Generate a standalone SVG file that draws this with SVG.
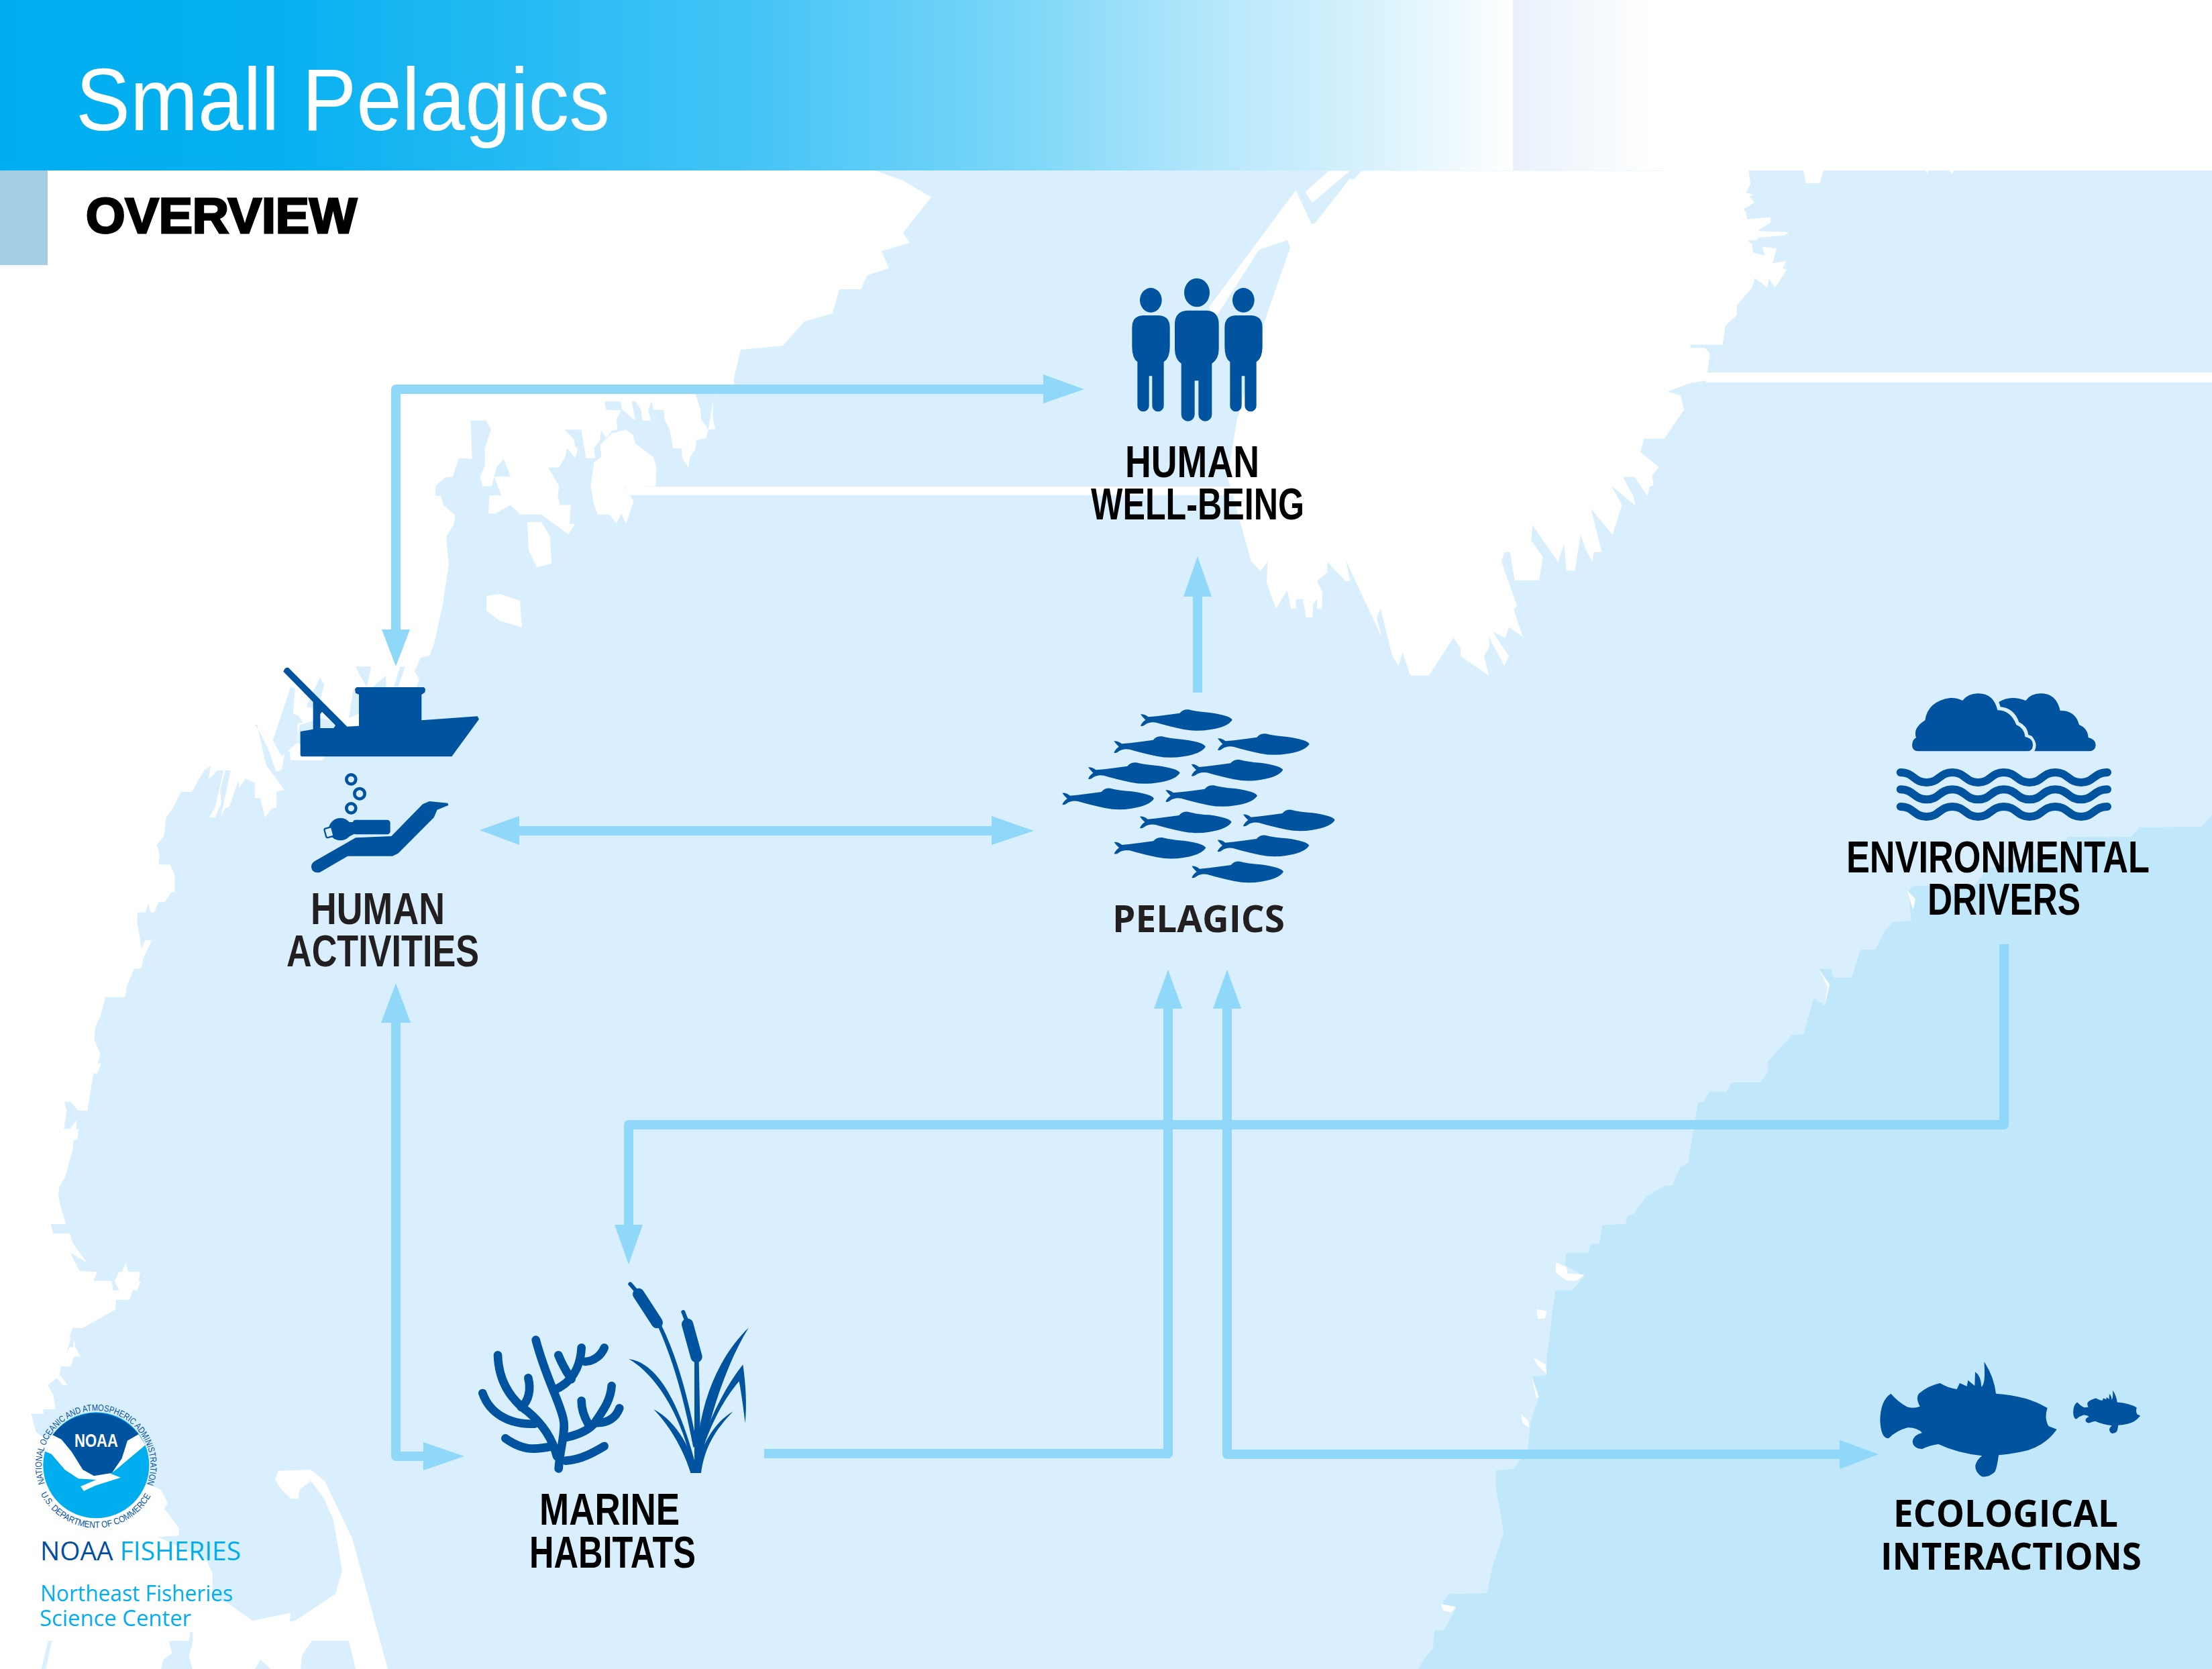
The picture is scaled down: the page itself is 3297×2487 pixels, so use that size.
<svg xmlns="http://www.w3.org/2000/svg" xmlns:xlink="http://www.w3.org/1999/xlink" width="3297" height="2487" viewBox="0 0 3297 2487">
<style>
.land{fill:#fff}.water{fill:#d9effd}.deep{fill:#c1e7fb}
.icon{fill:#00539f}
.lbl{font-family:"Liberation Sans",Arial,sans-serif;font-weight:700;font-size:67px;fill:#000}
.lbl2{font-family:"Open Sans","Noto Sans",sans-serif;font-weight:700;font-size:56px;fill:#000}
.dk{fill:#231f20}
.ln{fill:none;stroke:#8fd8f9;stroke-width:14;stroke-linejoin:round}
.hd{fill:#8fd8f9}
.wave{fill:none;stroke:#00539f;stroke-width:36;stroke-linecap:round}
.co{fill:none;stroke:#00539f;stroke-width:38;stroke-linecap:round;stroke-linejoin:round}
.foot{font-family:"Open Sans","Noto Sans",sans-serif;fill:#00aeef}
</style>
<defs>
<linearGradient id="hg" x1="0" x2="1" y1="0" y2="0">
<stop offset="0" stop-color="#00aeef"/><stop offset=".18" stop-color="#06b0f0"/><stop offset=".49" stop-color="#42c3f6"/><stop offset=".67" stop-color="#7ad6f8"/><stop offset=".8" stop-color="#b5e7fb"/><stop offset=".9" stop-color="#d5f1fc"/><stop offset="1" stop-color="#fff"/>
</linearGradient>
<linearGradient id="hg2" x1="0" x2="1" y1="0" y2="0"><stop offset="0" stop-color="#e8f1fb"/><stop offset="1" stop-color="#fff"/></linearGradient>
<path id="man" d="M160,270H232Q281,272 281,325V410Q281,460 254,478V674A26,26 0 0 1 202,674V541H188V674A26,26 0 0 1 136,674V478Q112,460 112,410V325Q112,272 160,270Z"/>
<path id="sard" d="M450,103Q465,100 485,115Q560,108 625,98Q640,80 665,82Q700,92 760,96Q850,108 860,128Q840,160 760,172Q700,182 640,170Q570,155 520,140Q490,135 470,150Q460,158 450,155Q455,140 472,128Q458,115 450,103Z"/>
<path id="grp" d="M127,410Q128,320 175,290Q210,330 250,350Q280,358 305,347Q285,310 300,290Q340,255 395,243Q430,265 470,270L483,243L515,257L520,230L550,255L552,193Q578,210 580,260Q600,245 592,148Q635,210 645,290Q790,300 875,355Q860,400 880,435L917,450Q860,530 760,550Q700,562 657,565Q650,620 640,640Q610,668 580,660Q550,640 553,610Q560,585 583,568Q470,555 388,516Q350,520 315,538Q275,535 272,505Q275,475 315,465Q290,440 250,442Q200,455 165,490Q130,490 127,410Z"/>
<path id="wv" d="M308,453C368,453 368,498 425,498C482,498 482,453 540,453C598,453 598,498 655,498C712,498 712,453 770,453C828,453 828,498 885,498C942,498 942,453 1000,453C1058,453 1058,498 1115,498C1172,498 1172,453 1233,453"/>
<path id="ringTop" d="M66.8,2210.3A81,81 0 1 1 218.3,2213.3"/>
<path id="ringBot" d="M60.6,2226.3A93,93 0 0 0 225,2228.3"/>
</defs>

<g id="map">
<rect class="water" x="0" y="254" width="3297" height="2233"/>
<polygon class="land" points="0,254 1304,254 1346,269 1388,294 1371,315 1346,347 1356,362 1314,374 1325,400 1293,410 1283,431 1251,431 1241,467 1199,479 1167,515 1104,521 1093,568 1100,587 1100,800 665,800 669,841 660,900 647,960 640,977 627,980 618,1000 625,1013 618,1030 600,1040 560,1090 500,1110 480,1133 433,1133 423,1177 412,1180 412,1203 405,1205 395,1218 388,1189 380,1189 380,1167 366,1160 357,1174 355,1164 342,1202 335,1205 329,1218 344,1148 336,1148 328,1177 330,1196 321,1218 312,1218 321,1202 333,1148 324,1148 311,1161 314,1141 304,1148 286,1180 0,1180"/>
<polygon class="land" transform="translate(0,1100) scale(.4464,.6378)" points="0,100 650,100 640,120 608,120 580,160 555,185 548,228 523,250 533,270 530,295 568,295 583,320 583,360 572,360 550,383 530,383 515,407 503,407 495,388 485,407 460,407 458,430 473,492 485,472 507,472 478,515 472,538 448,538 423,580 418,605 352,605 335,650 318,675 315,705 335,737 327,760 337,760 325,783 312,783 292,870 260,870 238,850 215,850 223,870 213,913 233,913 255,893 255,913 262,915 258,937 245,940 243,960 218,1025 198,1048 195,1070 205,1100 220,1135 170,1135 177,1157 233,1157 243,1180 290,1225 235,1202 265,1245 325,1247 312,1268 372,1268 378,1290 397,1290 383,1268 397,1247 408,1247 420,1225 428,1247 468,1247 463,1268 470,1270 458,1290 443,1290 433,1312 388,1312 385,1335 275,1378 243,1378 230,1400 237,1400 222,1437 232,1423 245,1423 245,1400 252,1423 270,1445 248,1445 235,1468 203,1468 198,1490 225,1512 210,1512 185,1490 160,1512 178,1535 185,1568 0,1568"/>
<polygon class="land" transform="translate(0,2050) scale(.33333)" points="0,0 250,0 300,40 270,0 214,42 240,110 190,130 195,170 140,170 160,250 175,262 300,360 450,420 640,480 700,500 720,510 750,570 735,595 770,640 800,680 800,715 705,720 920,820 950,880 950,1000 1010,1010 1130,1095 1300,1060 1295,1100 1320,1095 1500,975 1530,870 1490,640 1470,600 1450,550 1390,470 1340,510 1335,550 1300,550 1260,510 1230,465 1245,425 1390,420 1452,470 1575,726 1734,1311 0,1311"/>
<polygon class="water" transform="translate(0,2050) scale(.33333)" points="215,1185 232,1185 205,1311 185,1311"/>
<polygon class="water" transform="translate(0,2050) scale(.33333)" points="755,1185 845,1185 850,1145 862,1145 862,1190 845,1250 860,1311 720,1311 730,1270 770,1240"/>
<polygon class="water" transform="translate(0,2050) scale(.33333)" points="1140,1311 1165,1270 1210,1311"/>
<polygon class="water" transform="translate(0,2050) scale(.33333)" points="1345,1311 1350,1250 1395,1185 1560,1185 1590,1311"/>
<g transform="scale(.7015,.5102)">
<polygon class="water" points="1200,1255 1235,1255 1245,1338 1265,1338 1262,1310 1275,1285 1277,1258 1288,1280 1300,1258 1312,1255 1310,1225 1320,1198 1288,1197 1285,1172 1318,1172 1322,1197 1350,1228 1342,1172 1350,1172 1362,1197 1365,1228 1383,1228 1377,1197 1385,1172 1388,1197 1410,1197 1412,1225 1423,1255 1430,1310 1448,1310 1450,1340 1463,1365 1465,1338 1478,1310 1480,1285 1500,1280 1505,1255 1520,1253 1515,1225 1515,1170 1525,1150 1568,1150 1568,1568 1222,1568 1222,1530 1210,1530 1213,1475 1190,1475 1185,1448 1188,1420 1165,1365 1187,1365 1200,1338 1205,1310 1222,1338 1228,1310 1222,1305 1220,1285"/>
<polygon class="water" points="1478,1150 1525,1150 1515,1170 1505,1255 1490,1225 1488,1195"/>
<polygon class="water" points="1000,1228 1033,1228 1043,1255 1030,1310 1030,1362 1020,1392 1025,1420 1045,1420 1055,1365 1070,1340 1085,1392 1050,1392 1065,1447 1040,1447 1038,1500 1052,1500 1085,1475 1105,1503 1150,1503 1208,1560 1222,1530 1240,1568 948,1568 965,1530 967,1505 942,1475 937,1448 925,1448 925,1420 945,1395 962,1392 975,1338 1003,1340"/>
<polygon class="land" points="1255,1420 1262,1350 1278,1335 1275,1300 1300,1265 1330,1255 1345,1270 1350,1295 1388,1335 1395,1365 1393,1420 1370,1420 1345,1447 1325,1420 1345,1460 1345,1470 1330,1530 1320,1500 1310,1530 1295,1503 1270,1503 1262,1475"/>
</g>
<polygon class="land" points="786,778 807,778 820,800 822,840 800,845 788,820"/>
<polygon class="land" points="725,888 745,885 775,895 778,935 745,925 725,910"/>
<rect class="land" x="933" y="725" width="910" height="13"/>
<g transform="translate(380,960) scale(.33333)">
<polygon class="water" points="450,100 520,100 500,190 470,140"/>
<polygon class="water" points="650,100 672,100 640,190 620,190"/>
<polygon class="water" points="530,190 585,140 590,260 420,330 440,200"/>
<polygon class="water" points="80,430 160,190 180,195 170,310 195,320 215,350 190,355 190,440 120,500"/>
<polygon class="water" points="290,150 310,180 280,290 230,280"/>
<polygon class="water" points="0,360 10,360 50,540 95,600 130,650 160,520 155,480 135,478 120,560 95,570 60,470 20,390"/>
<polygon class="water" points="300,330 420,370 420,500 310,500 190,440 200,360"/>
</g>
<polygon class="land" transform="translate(1500,200) scale(.7015,.574)" points="685,95 730,95 650,178 635,150"/>
<polygon class="land" transform="translate(1500,200) scale(.7015,.574)" points="755,95 738,118 730,115 655,232 648,232 615,145 430,450 445,475 537,300 597,275 603,295 550,480 490,740 470,890 520,1108 540,1135 555,1110 553,1165 573,1232 597,1183 605,1232 615,1232 615,1207 630,1207 637,1255 650,1255 652,1220 660,1205 660,1232 670,1232 672,1190 660,1160 682,1137 682,1110 720,1160 730,1160 722,1108 797,1305 787,1255 795,1232 820,1355 833,1380 842,1345 858,1405 898,1405 950,1307 965,1335 965,1355 1025,1405 1015,1355 1027,1330 1025,1305 1058,1380 1068,1355 1033,1292 1060,1307 1068,1280 1097,1305 1078,1233 1085,1225 1052,1110 1058,1085 1070,1085 1080,1158 1132,1158 1140,1097 1115,1055 1118,1015 1172,1110 1185,1065 1190,1133 1208,1133 1220,1040 1232,1080 1245,1110 1248,1085 1265,1085 1242,972 1288,1040 1308,962 1285,912 1337,965 1332,940 1310,890 1335,890 1362,940 1367,915 1375,912 1372,885 1387,865 1347,825 1355,790 1398,790 1440,715 1432,678 1405,668 1455,645 1487,640 1495,570 1485,555 1452,555 1455,545 1522,545 1528,495 1552,470 1552,445 1568,420 1568,95"/>
<polygon class="land" transform="translate(2100,220) scale(.7634,.6378)" points="500,52 663,52 667,85 658,105 672,110 665,115 675,128 652,145 658,150 660,167 705,163 707,175 680,195 742,197 733,205 682,210 680,215 660,217 670,225 672,245 695,252 690,232 718,235 710,270 737,265 730,282 738,285 715,327 703,307 700,327 675,305 670,328 638,370 638,393 617,418 612,460 500,460"/>
<polygon class="land" transform="translate(2100,220) scale(.7634,.6378)" points="770,52 810,52 802,83 775,83"/>
<polygon class="land" transform="translate(2100,220) scale(.7634,.6378)" points="1008,52 1015,52 1012,62"/>
<polygon class="land" transform="translate(2100,220) scale(.7634,.6378)" points="1055,52 1065,52 1060,62"/>
<rect class="land" x="2543" y="555" width="754" height="15"/>
<g transform="translate(1900,1200) scale(.891,.8208)">
<polygon class="deep" points="1568,18 1550,39 1446,40 1433,57 1395,58 1328,57 1310,82 1260,110 1193,113 1171,146 1070,146 1060,155 1065,210 1035,212 1020,228 1005,262 980,262 965,313 935,313 930,297 910,297 928,330 920,365 902,348 885,415 865,417 825,465 825,483 813,503 765,503 755,520 727,520 717,538 708,540 700,590 692,648 678,658 665,690 650,692 622,710 600,742 590,745 587,760 548,762 543,795 528,797 525,812 488,812 485,835 518,855 498,880 470,880 465,915 458,980 455,1000 455,1035 430,1037 442,1075 428,1120 423,1170 400,1205 370,1207 370,1240 383,1320 365,1380 355,1430 290,1432 280,1450 303,1458 283,1498 267,1498 265,1530 250,1550 240,1568 1568,1568"/>
<polygon class="land" points="470,830 488,838 490,850 518,852 505,863 488,863 470,848"/>
<polygon class="land" points="438,915 455,918 452,932 440,932"/>
<polygon class="land" points="910,297 928,325 920,365 925,330"/>
<polygon class="land" points="1058,155 1072,170 1068,190 1062,170"/>
<polygon class="land" points="433,1003 453,1015 455,1032 440,1018"/>
<polygon class="land" points="430,1037 442,1075 437,1075"/>
<polygon class="land" points="412,1105 425,1118 425,1130 415,1122"/>
<polygon class="land" points="370,1240 383,1320 378,1290"/>
<polygon class="land" points="278,1450 303,1455 295,1465 282,1462"/>
</g>
</g>

<g id="header">
<rect x="0" y="0" width="2255" height="254" fill="url(#hg)"/>
<rect x="2255" y="0" width="213" height="254" fill="url(#hg2)"/>
<rect x="0" y="254" width="71" height="141" fill="#a6cee3"/>
<text x="113" y="194" font-family="Liberation Sans,Arial,sans-serif" font-size="132" fill="#fff" textLength="796" lengthAdjust="spacingAndGlyphs">Small Pelagics</text>
<text x="128" y="347" font-family="Liberation Sans,Arial,sans-serif" font-size="74" font-weight="700" fill="#000" stroke="#000" stroke-width="3" textLength="404" lengthAdjust="spacingAndGlyphs">OVERVIEW</text>
</g>

<g id="connectors">
<path class="ln" d="M590,945V580H1560"/>
<polygon class="hd" points="1555,558 1616,580 1555,601"/>
<polygon class="hd" points="569,938 611,938 590,993"/>
<path class="ln" d="M770,1238H1482"/>
<polygon class="hd" points="774,1216 715,1237 774,1259"/>
<polygon class="hd" points="1478,1216 1541,1238 1478,1259"/>
<path class="ln" d="M1785,1032V885"/>
<polygon class="hd" points="1764,889 1806,889 1785,829"/>
<path class="ln" d="M590,1520V2170H635"/>
<polygon class="hd" points="568,1524 612,1524 590,1465"/>
<polygon class="hd" points="631,2149 692,2170 631,2191"/>
<path class="ln" d="M2987,1407V1676H937V1830"/>
<polygon class="hd" points="916,1825 958,1825 937,1884"/>
<path class="ln" d="M1139,2166H1741V1500"/>
<polygon class="hd" points="1720,1503 1762,1503 1741,1445"/>
<path class="ln" d="M1829,1500V2167H2746"/>
<polygon class="hd" points="1808,1503 1850,1503 1829,1445"/>
<polygon class="hd" points="2742,2146 2800,2167 2742,2189"/>
</g>

<g id="node-human-well-being">
<g class="icon" transform="translate(1650,380) scale(.33333)">
<ellipse cx="196" cy="202" rx="49" ry="55"/><use href="#man"/>
<ellipse cx="610" cy="202" rx="49" ry="55"/><use href="#man" x="414"/>
<ellipse cx="402" cy="168" rx="57" ry="64"/>
<path d="M360,248H445Q500,250 500,310V420Q500,465 469,485V713A30,30 0 0 1 409,713V562H392V713A30,30 0 0 1 332,713V485Q303,465 303,420V310Q303,250 360,248Z"/>
</g>
<text class="lbl" x="1677" y="711" textLength="200" lengthAdjust="spacingAndGlyphs">HUMAN</text>
<text class="lbl" x="1626" y="774" textLength="318" lengthAdjust="spacingAndGlyphs">WELL-BEING</text>
</g>

<g id="node-human-activities">
<g transform="translate(380,960) scale(.33333)">
<path class="icon" fill-rule="evenodd" d="M127,122L133,110Q140,103 150,105L412,368L465,365V225L450,218L447,200L455,192H755L762,200L760,215L745,225V340L995,322L1002,335L880,502H207L203,495V390L260,380V258ZM292,375V312L300,302L360,362L352,375Z"/>
<circle cx="430" cy="604" r="21" fill="none" stroke="#00539f" stroke-width="14"/>
<circle cx="468" cy="668" r="23" fill="none" stroke="#00539f" stroke-width="14"/>
<circle cx="430" cy="733" r="21" fill="none" stroke="#00539f" stroke-width="14"/>
<path class="icon" d="M252,995Q252,975 275,965L450,865L610,858L750,715L780,702L862,710L865,720L815,740L800,775L640,935L615,947H415L290,1020Q255,1025 252,995Z"/>
<rect class="icon" x="437" y="785" width="168" height="65" rx="14"/>
<ellipse class="icon" cx="382" cy="827" rx="52" ry="50"/>
<polygon class="icon" points="420,795 450,795 450,845 420,860"/>
<rect x="314" y="820" width="34" height="42" rx="6" fill="#d9effd" stroke="#00539f" stroke-width="7" transform="rotate(-15 331 841)"/>
</g>
<text class="lbl dk" x="463" y="1377" textLength="200" lengthAdjust="spacingAndGlyphs">HUMAN</text>
<text class="lbl dk" x="427" y="1440" textLength="287" lengthAdjust="spacingAndGlyphs">ACTIVITIES</text>
</g>

<g id="node-pelagics">
<g class="icon" transform="translate(1550,1030) scale(.33333)">
<use href="#sard"/><use href="#sard" x="-119" y="120"/><use href="#sard" x="345" y="108"/><use href="#sard" x="-234" y="237"/><use href="#sard" x="227" y="224"/><use href="#sard" x="-350" y="352"/><use href="#sard" x="112" y="339"/><use href="#sard" x="-3" y="457"/><use href="#sard" x="459" y="448"/><use href="#sard" x="-118" y="572"/><use href="#sard" x="344" y="562"/><use href="#sard" x="229" y="679"/>
</g>
<text class="lbl2 dk" x="1658" y="1389" textLength="257" lengthAdjust="spacingAndGlyphs">PELAGICS</text>
</g>

<g id="node-environmental-drivers">
<g transform="translate(2730,1000) scale(.33333)">
<path class="icon" d="M385,358Q360,355 360,330Q362,305 378,298Q362,255 418,220Q430,135 530,120Q560,118 585,132Q610,100 655,100Q725,100 742,175Q800,175 826,240Q862,255 866,295Q900,300 900,332Q898,358 875,358Z"/>
<path class="icon" d="M748,138Q800,105 868,132Q890,100 935,100Q1005,100 1022,177Q1090,175 1107,240Q1145,255 1148,297Q1182,305 1181,332Q1178,358 1150,358H907Q925,325 895,290L880,285Q875,245 838,228Q815,165 755,160Z"/>
<use href="#wv" class="wave"/><use href="#wv" class="wave" y="76"/><use href="#wv" class="wave" y="153"/>
</g>
<text class="lbl" x="2752" y="1300" textLength="452" lengthAdjust="spacingAndGlyphs">ENVIRONMENTAL</text>
<text class="lbl" x="2873" y="1363" textLength="228" lengthAdjust="spacingAndGlyphs">DRIVERS</text>
</g>

<g id="node-marine-habitats">
<g transform="translate(680,1880) scale(.33333)">
<g class="co">
<path d="M458,925C465,830 490,760 480,710C470,640 400,520 356,350"/>
<path d="M435,575C510,545 555,480 560,385"/>
<path d="M577,447C620,445 650,415 662,385"/>
<path d="M515,525C490,490 470,450 457,418"/>
<path d="M495,785C560,770 600,745 620,720C660,660 690,620 695,555"/>
<path d="M620,720C680,725 715,695 730,655"/>
<path d="M590,725C570,690 560,660 560,622"/>
<path d="M450,870C430,790 380,720 320,670C250,620 190,540 186,418"/>
<path d="M290,650C325,625 335,570 322,520"/>
<path d="M350,725C240,730 150,680 118,588"/>
<path d="M430,825C340,845 290,840 220,790"/>
<path d="M490,890C560,885 620,850 662,825"/>
</g>
<g class="icon">
<path d="M772,435C880,450 990,580 1080,945H1060C1030,760 930,530 772,435Z"/>
<path d="M883,660C980,710 1050,830 1075,945H1048C1020,850 960,740 883,660Z"/>
<path d="M1308,295C1180,420 1100,600 1078,820L1075,945H1090C1100,820 1180,500 1308,295Z"/>
<path d="M1238,670C1150,720 1090,830 1072,945H1095C1110,830 1160,750 1238,670Z"/>
<path d="M1100,800C1150,670 1210,550 1282,460C1295,550 1300,640 1292,722C1285,660 1275,590 1265,535C1200,610 1140,720 1095,860Z"/>
<path d="M902,290L918,285C990,430 1040,620 1078,825L1060,830C1020,620 970,440 902,290Z"/>
<path d="M1065,445H1085L1095,945H1065Z"/>
</g>
<g fill="none" stroke="#00539f" stroke-linecap="round">
<path d="M815,145L898,272" stroke-width="52"/><path d="M778,100L800,125" stroke-width="18"/>
<path d="M1034,280L1074,425" stroke-width="52"/><path d="M1015,225L1028,258" stroke-width="18"/>
</g>
</g>
<text class="lbl" x="804" y="2272" textLength="209" lengthAdjust="spacingAndGlyphs">MARINE</text>
<text class="lbl" x="789" y="2336" textLength="248" lengthAdjust="spacingAndGlyphs">HABITATS</text>
</g>

<g id="node-ecological-interactions">
<g class="icon" transform="translate(2760,1980) scale(.33333)">
<use href="#grp"/>
<use href="#grp" transform="translate(942,219.5) scale(.38,.375)"/>
</g>
<text class="lbl2" x="2822" y="2275" textLength="335" lengthAdjust="spacingAndGlyphs">ECOLOGICAL</text>
<text class="lbl2" x="2803" y="2339" textLength="389" lengthAdjust="spacingAndGlyphs">INTERACTIONS</text>
</g>

<g id="logo">
<circle cx="143.3" cy="2183.3" r="79" fill="#00aeef"/>
<g transform="translate(0,2050) scale(.33333)">
<path fill="#00539f" d="M235,265A240,240 0 0 1 620,262L570,290L545,370L500,435L420,448L370,420L320,340L275,285Z"/>
<path fill="#fff" d="M195,335L230,350L290,420L350,460L430,465L360,495L375,515L430,490L540,455L495,438L525,415L650,310L620,262L570,290L545,370L500,435L420,448L370,420L320,340L275,285L235,265L195,310Z"/>
</g>
<text x="111" y="2156" font-family="Liberation Sans,Arial,sans-serif" font-weight="700" font-size="28" fill="#fff" textLength="65" lengthAdjust="spacingAndGlyphs">NOAA</text>
<text font-family="Liberation Sans,Arial,sans-serif" font-size="13.5" fill="#00539f"><textPath href="#ringTop" textLength="311" lengthAdjust="spacingAndGlyphs">NATIONAL OCEANIC AND ATMOSPHERIC ADMINISTRATION</textPath></text>
<text font-family="Liberation Sans,Arial,sans-serif" font-size="13.5" fill="#00539f"><textPath href="#ringBot" textLength="201" lengthAdjust="spacingAndGlyphs">U.S. DEPARTMENT OF COMMERCE</textPath></text>
<text class="foot" x="60" y="2325" font-size="38" textLength="299" lengthAdjust="spacingAndGlyphs"><tspan fill="#034f9f">NOAA</tspan> FISHERIES</text>
<text class="foot" x="60" y="2386" font-size="33" textLength="287" lengthAdjust="spacingAndGlyphs">Northeast Fisheries</text>
<text class="foot" x="59" y="2423" font-size="33" textLength="226" lengthAdjust="spacingAndGlyphs">Science Center</text>
</g>
</svg>
